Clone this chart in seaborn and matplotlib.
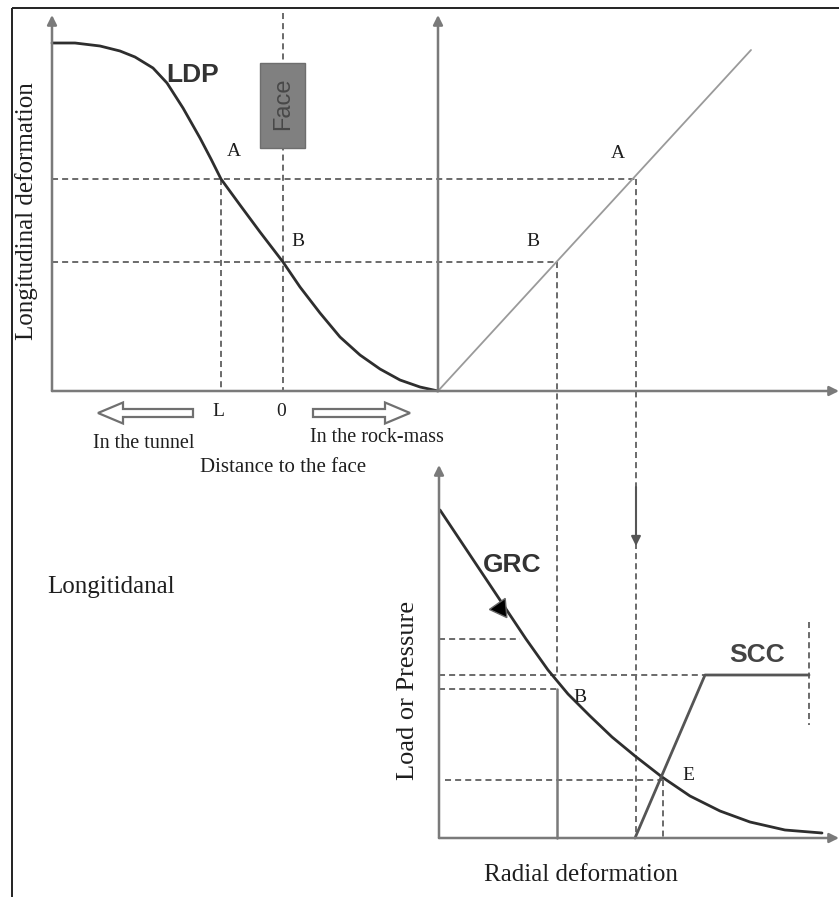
import matplotlib
matplotlib.use("Agg")
import matplotlib.pyplot as plt
from matplotlib.patches import FancyArrow, Rectangle
import numpy as np
import pandas as pd
import seaborn as sns

# Longitudinal deformation profile (LDP), canvas pixel units
ldp_x = [52, 75, 100, 120, 135, 153, 167, 183, 200, 211, 221, 240, 260, 283,
         300, 320, 340, 360, 380, 400, 420, 438]
ldp_y = [43, 43, 46, 51, 57, 68, 83, 108, 138, 159, 179, 205, 232, 262,
         287, 313, 337, 355, 369, 380, 387, 391]

# Transfer line between longitudinal and radial deformation
link_x = [438, 751]
link_y = [391, 50]

# Ground reaction curve (GRC)
grc_x = [440, 470, 500, 526, 548, 568, 590, 612, 635, 662, 690, 720, 750, 785, 822]
grc_y = [510, 555, 600, 639, 670, 694, 716, 737, 756, 777, 796, 811, 822, 830, 833]

# Support characteristic curve (SCC)
scc_x = [635, 705, 809]
scc_y = [838, 675, 675]

# Projection guides: (x0, y0, x1, y1)
guides = [
    (52, 179, 636, 179), (52, 262, 557, 262),
    (221, 179, 221, 391), (283, 13, 283, 391),
    (636, 179, 636, 838), (557, 262, 557, 675),
    (439, 639, 520, 639), (439, 675, 705, 675),
    (439, 689, 557, 689), (445, 780, 663, 780),
    (663, 780, 663, 838), (809, 622, 809, 725),
]

# Axes with arrow heads: (x_start, y_start, x_end, y_end)
axes_arrows = [
    (52, 391, 52, 15), (52, 391, 839, 391),
    (438, 391, 438, 15), (439, 838, 439, 465), (439, 838, 839, 838),
]

sns.set_theme(style="white")
plt.rcParams["font.family"] = ["Liberation Serif", "DejaVu Serif"]

fig = plt.figure(figsize=(8.39, 8.97), dpi=100)
ax = fig.add_axes([0, 0, 1, 1])
ax.set_xlim(0, 839)
ax.set_ylim(897, 0)
ax.axis("off")

axis_col = "#7a7a7a"
curve_col = "#2e2e2e"
dash_col = "#6a6a6a"

# frame
ax.plot([12, 839], [8, 8], color="#222222", lw=1.4, solid_capstyle="butt")
ax.plot([12, 12], [8, 897], color="#222222", lw=1.4, solid_capstyle="butt")

for x0, y0, x1, y1 in guides:
    ax.plot([x0, x1], [y0, y1], color=dash_col, lw=1.4, dashes=(3.1, 2.1))

for x0, y0, x1, y1 in axes_arrows:
    ax.annotate("", xy=(x1, y1), xytext=(x0, y0),
                arrowprops=dict(arrowstyle="-|>", color=axis_col, lw=1.8,
                                mutation_scale=14, shrinkA=0, shrinkB=0))

# solid drop from B to the radial axis
ax.plot([557, 557], [689, 838], color=axis_col, lw=1.8)
# arrow pointing down on the A projection
ax.annotate("", xy=(636, 546), xytext=(636, 487),
            arrowprops=dict(arrowstyle="-|>", color="#555555", lw=1.5,
                            mutation_scale=14, shrinkA=0, shrinkB=0))

sns.lineplot(x=link_x, y=link_y, ax=ax, color="#9a9a9a", lw=1.3,
             sort=False, estimator=None)
sns.lineplot(x=ldp_x, y=ldp_y, ax=ax, color=curve_col, lw=2.0,
             sort=False, estimator=None)
sns.lineplot(x=grc_x, y=grc_y, ax=ax, color=curve_col, lw=2.0,
             sort=False, estimator=None)
sns.lineplot(x=scc_x, y=scc_y, ax=ax, color="#555555", lw=2.0,
             sort=False, estimator=None)

# triangle glyph on the GRC
ax.plot([500], [608], marker=(3, 0, 95), markersize=16, color="black",
        markeredgecolor="#666666", markeredgewidth=1.0, linestyle="none")

# face block
ax.add_patch(Rectangle((260, 63), 45, 85, facecolor="#808080",
                       edgecolor="#6e6e6e", lw=1.0, zorder=3))
ax.text(283, 104, "Face", rotation=90, ha="center", va="center",
        fontsize=17, color="#484848", family=["Liberation Sans", "DejaVu Sans"], zorder=4)

# hollow direction arrows
for x, dx in [(193, -95), (313, 97)]:
    ax.add_patch(FancyArrow(x, 413, dx, 0, width=8, head_width=21,
                            head_length=25, length_includes_head=True,
                            facecolor="white", edgecolor="#707070", lw=1.6))

bold = dict(family=["Liberation Sans", "DejaVu Sans"], fontweight="bold")
ax.text(193, 75, "LDP", ha="center", va="center", fontsize=19, color="#333333", **bold)
ax.text(512, 565, "GRC", ha="center", va="center", fontsize=19, color="#333333", **bold)
ax.text(757, 655, "SCC", ha="center", va="center", fontsize=19, color="#444444", **bold)

serif_col = "#1e1e1e"
pt = dict(ha="center", va="center", fontsize=14, color=serif_col)
ax.text(234, 151, "A", **pt)
ax.text(298, 242, "B", **pt)
ax.text(618, 153, "A", **pt)
ax.text(533, 242, "B", **pt)
ax.text(580, 697, "B", **pt)
ax.text(688, 776, "E", **pt)
ax.text(218, 411, "L", **pt)
ax.text(281, 411, "0", **pt)

ax.text(93, 443, "In the tunnel", ha="left", va="center", fontsize=14.5, color=serif_col)
ax.text(310, 438, "In the rock-mass", ha="left", va="center", fontsize=14.5, color=serif_col)
ax.text(283, 468, "Distance to the face", ha="center", va="center", fontsize=15, color=serif_col)
ax.text(27, 211, "Longitudinal deformation", rotation=90, ha="center", va="center",
        fontsize=18, color=serif_col)
ax.text(47, 587, "Longitidanal", ha="left", va="center", fontsize=18, color=serif_col)
ax.text(408, 690, "Load or Pressure", rotation=90, ha="center", va="center",
        fontsize=19, color=serif_col)
ax.text(581, 875, "Radial deformation", ha="center", va="center", fontsize=18, color=serif_col)

fig.savefig("out.png", dpi=100)
